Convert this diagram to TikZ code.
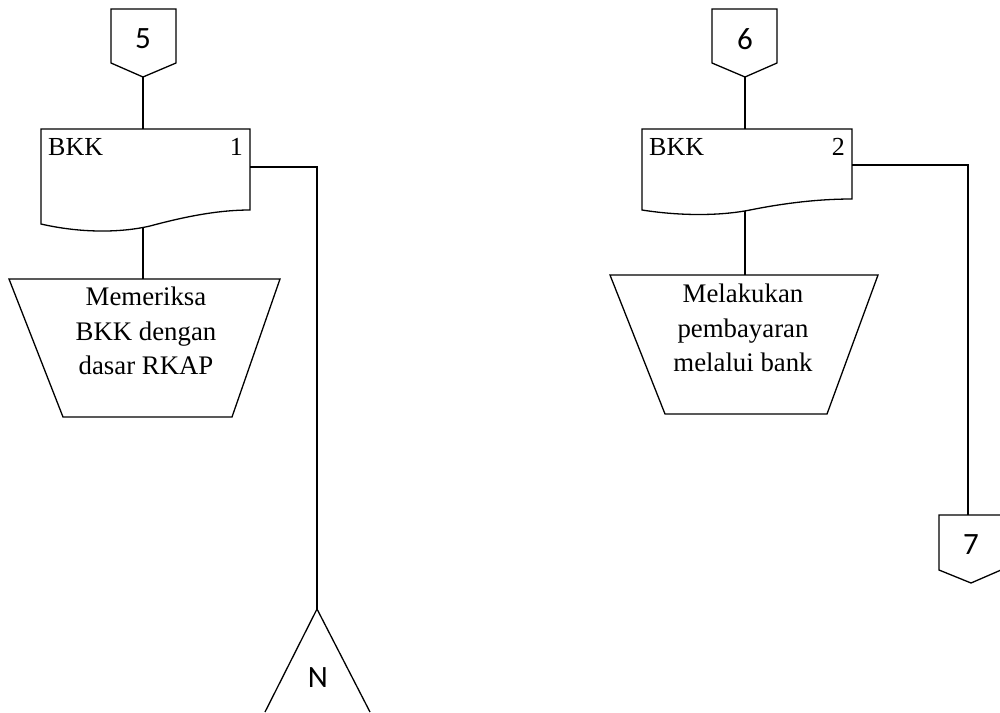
\documentclass[tikz,border=0pt]{standalone}
\usepackage{fontspec}
\setmainfont{Liberation Serif}
\newfontfamily\lblsans{Carlito}
\begin{document}
\begin{tikzpicture}[x=1pt,y=-1pt,
  line/.style={draw=black,line width=1.3pt},
  conlbl/.style={font=\lblsans\fontsize{31}{33}\selectfont},
  boxtxt/.style={font=\fontsize{26.8}{34.5}\selectfont,align=center},
  doctxt/.style={font=\fontsize{26}{28}\selectfont,inner sep=0pt}]
\useasboundingbox (0,0) rectangle (1000,712);
\clip (0,0) rectangle (1000,712);
% ---------- left column ----------
% off-page connector 5
\draw[line] (111,9) -- (176,9) -- (176,63) -- (143,77) -- (111,63) -- cycle;
\node[conlbl] (n5) at (143,39) {5};
\coordinate (c5) at (143,77);
% document BKK 1
\draw[line] (41,129) -- (250,129) -- (250,210)
  .. controls (215,210) and (180,218) .. (150,226)
  .. controls (120,233) and (80,233) .. (41,224) -- cycle;
\coordinate (d1top) at (143,129);
\coordinate (d1bot) at (143,227);
\coordinate (d1r) at (250,167);
\node[doctxt,anchor=base west] (d1a) at (48,155) {BKK};
\node[doctxt,anchor=base east] (d1b) at (243,155) {1};
% manual process 1
\draw[line] (9,279) -- (280,279) -- (232,417) -- (63,417) -- cycle;
\coordinate (p1top) at (143,279);
\node[boxtxt] (p1) at (146,331) {Memeriksa\\BKK dengan\\dasar RKAP};
% file N
\draw[line] (317,609) -- (265,712);
\draw[line] (317,609) -- (370,712);
\coordinate (fN) at (317,609);
\node[conlbl] (nN) at (318,678) {N};
% connectors
\draw[line] (c5) -- (d1top);
\draw[line] (d1bot) -- (p1top);
\draw[line] (d1r) -- (317,167) -- (fN);
% ---------- right column ----------
\draw[line] (712,9) -- (777,9) -- (777,63) -- (745,77) -- (712,63) -- cycle;
\node[conlbl] (n6) at (745,39) {6};
\coordinate (c6) at (745,77);
\draw[line] (642,129) -- (852,129) -- (852,199)
  .. controls (815,199) and (780,204) .. (750,210)
  .. controls (720,216) and (680,216) .. (642,210) -- cycle;
\coordinate (d2top) at (745,129);
\coordinate (d2bot) at (745,211);
\coordinate (d2r) at (852,165);
\node[doctxt,anchor=base west] (d2a) at (649,155) {BKK};
\node[doctxt,anchor=base east] (d2b) at (845,155) {2};
\draw[line] (610,275) -- (878,275) -- (827,414) -- (665,414) -- cycle;
\coordinate (p2top) at (745,275);
\node[boxtxt] (p2) at (743,328) {Melakukan\\pembayaran\\melalui bank};
% connector 7
\draw[line] (939,515) -- (1001,515) -- (1001,570) -- (971,583) -- (939,570) -- cycle;
\node[conlbl] (n7) at (971,545) {7};
\coordinate (c7) at (968,515);
\draw[line] (c6) -- (d2top);
\draw[line] (d2bot) -- (p2top);
\draw[line] (d2r) -- (968,165) -- (c7);
\end{tikzpicture}
\end{document}
